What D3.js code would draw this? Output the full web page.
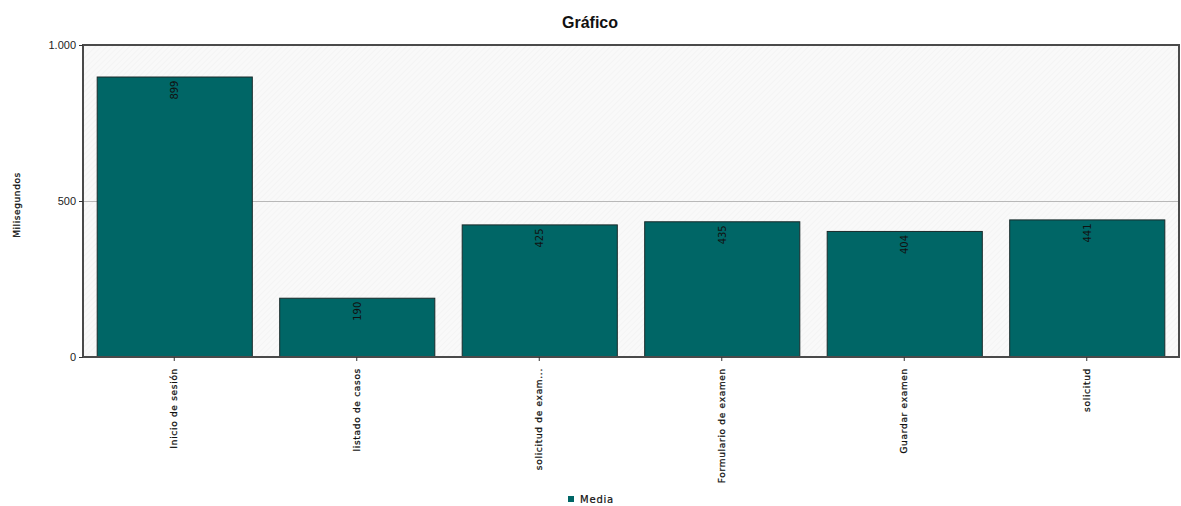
<!DOCTYPE html>
<html>
<head>
<meta charset="utf-8">
<script src="https://cdn.jsdelivr.net/npm/d3@7"></script>
<style>
  html, body { margin: 0; padding: 0; background: #ffffff; }
  svg { display: block; }
</style>
</head>
<body>
<svg id="chart" width="1181" height="506"></svg>
<script>
// Response times per step (milliseconds)
const categories = ["Inicio de sesión", "listado de casos", "solicitud de exam...", "Formulario de examen", "Guardar examen", "solicitud"];
const media = [899, 190, 425, 435, 404, 441];
const yTicks = [0, 500, 1000];
const yTickLabels = ["0", "500", "1.000"];
const seriesName = "Media";

const W = 1181, H = 506;
const plot = { left: 83, right: 1179, top: 45, bottom: 357 };
const barColor = "#006666";

const svg = d3.select("#chart");

// background hatch for the plot area
const defs = svg.append("defs");
const pat = defs.append("pattern")
  .attr("id", "hatch").attr("width", 4).attr("height", 4)
  .attr("patternUnits", "userSpaceOnUse")
  .attr("patternTransform", "rotate(45)");
pat.append("rect").attr("width", 4).attr("height", 4).attr("fill", "#f9f9f9");
pat.append("line").attr("x1", 0).attr("y1", 0).attr("x2", 0).attr("y2", 4)
  .attr("stroke", "#efefef").attr("stroke-width", 1);

const x = d3.scaleBand()
  .domain(categories)
  .range([plot.left, plot.right - 1])
  .paddingInner(0.15)
  .paddingOuter(0.075);

const y = d3.scaleLinear()
  .domain([0, 1000])
  .range([plot.bottom, plot.top]);

// plot background
svg.append("rect")
  .attr("x", plot.left).attr("y", plot.top)
  .attr("width", plot.right - plot.left).attr("height", plot.bottom - plot.top)
  .attr("fill", "url(#hatch)");

// horizontal grid lines
svg.append("g")
  .selectAll("line")
  .data(yTicks.filter(t => t > 0 && t < 1000))
  .join("line")
  .attr("x1", plot.left).attr("x2", plot.right)
  .attr("y1", d => y(d) + 0.5).attr("y2", d => y(d) + 0.5)
  .attr("stroke", "#b8b8b8").attr("stroke-width", 1);

// bars
svg.append("g")
  .selectAll("rect")
  .data(media)
  .join("rect")
  .attr("x", (d, i) => x(categories[i]) + 0.5)
  .attr("y", d => y(d) + 0.5)
  .attr("width", x.bandwidth())
  .attr("height", d => y(0) - y(d))
  .attr("fill", barColor)
  .attr("stroke", "#1a2a2a")
  .attr("stroke-width", 1);

// value labels inside bars
svg.append("g")
  .selectAll("text")
  .data(media)
  .join("text")
  .attr("transform", (d, i) => `translate(${x(categories[i]) + x.bandwidth() / 2 + 4},${y(d) + 4}) rotate(-90)`)
  .attr("text-anchor", "end")
  .attr("font-family", "DejaVu Sans, sans-serif")
  .attr("font-size", 10)
  .attr("fill", "#111")
  .text(d => d);

// plot frame
svg.append("rect")
  .attr("x", plot.left).attr("y", plot.top)
  .attr("width", plot.right - plot.left).attr("height", plot.bottom - plot.top)
  .attr("fill", "none")
  .attr("stroke", "#4a4a4a").attr("stroke-width", 2);

// y axis
const yAxis = d3.axisLeft(y)
  .tickValues(yTicks)
  .tickFormat((d, i) => yTickLabels[i])
  .tickSize(4)
  .tickPadding(3);
const gy = svg.append("g").attr("transform", `translate(${plot.left},0)`).call(yAxis);
gy.select(".domain").remove();
gy.selectAll("line").attr("stroke", "#333");
gy.selectAll("text")
  .attr("font-family", "Liberation Sans, Arial, sans-serif")
  .attr("font-size", 11)
  .attr("fill", "#222");

// x axis
const xAxis = d3.axisBottom(x).tickSize(4).tickPadding(0);
const gx = svg.append("g").attr("transform", `translate(0,${plot.bottom})`).call(xAxis);
gx.select(".domain").remove();
gx.selectAll("line").attr("stroke", "#333");
gx.selectAll("text")
  .attr("transform", "translate(0,11) rotate(-90)")
  .attr("x", 0).attr("y", 0).attr("dy", "0.35em")
  .attr("text-anchor", "end")
  .attr("font-family", "DejaVu Sans, sans-serif")
  .attr("font-size", 9)
  .attr("letter-spacing", 0.7)
  .attr("fill", "#111")
  .attr("stroke", "#111")
  .attr("stroke-width", 0.25);

// y axis title
svg.append("text")
  .attr("transform", `translate(20,${(plot.top + plot.bottom) / 2 + 4}) rotate(-90)`)
  .attr("text-anchor", "middle")
  .attr("font-family", "DejaVu Sans, sans-serif")
  .attr("font-size", 9)
  .attr("letter-spacing", 0.6)
  .attr("fill", "#111")
  .attr("stroke", "#111")
  .attr("stroke-width", 0.25)
  .text("Milisegundos");

// title
svg.append("text")
  .attr("x", 590).attr("y", 28)
  .attr("text-anchor", "middle")
  .attr("font-family", "Liberation Sans, Arial, sans-serif")
  .attr("font-weight", "bold")
  .attr("font-size", 16)
  .attr("fill", "#111")
  .text("Gráfico");

// legend
const lg = svg.append("g").attr("transform", "translate(568,496)");
lg.append("rect").attr("x", 0).attr("y", 0).attr("width", 6).attr("height", 6).attr("fill", barColor);
lg.append("text")
  .attr("x", 12).attr("y", 7)
  .attr("font-family", "DejaVu Sans, sans-serif")
  .attr("font-size", 10)
  .attr("letter-spacing", 0.8)
  .attr("fill", "#111")
  .attr("stroke", "#111")
  .attr("stroke-width", 0.2)
  .text(seriesName);
</script>
</body>
</html>
